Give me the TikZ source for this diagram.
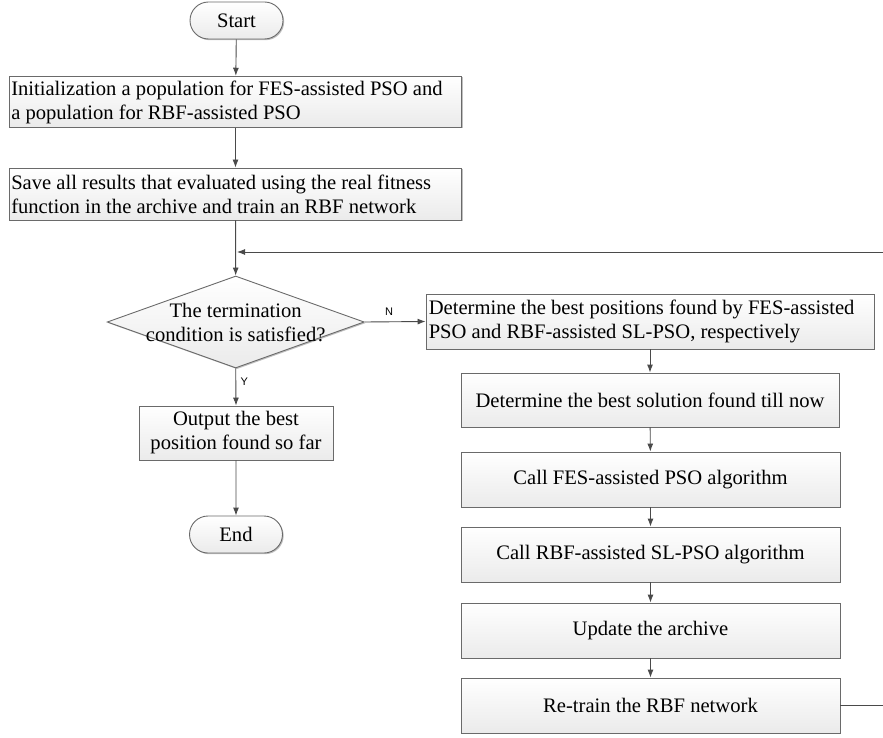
\documentclass[tikz,border=0pt]{standalone}
\usepackage{fontspec}
\setmainfont{Liberation Serif}
\newfontfamily\lblfont{Liberation Sans}
\usetikzlibrary{arrows.meta,shapes.misc,shapes.geometric,shadows}
\definecolor{linec}{HTML}{4A4A4A}
\definecolor{borderc}{HTML}{6A6A6A}
\tikzset{
  fc/.style={draw=borderc, line width=0.9pt, top color=white, bottom color=gray!16,
    drop shadow={shadow xshift=1.2pt, shadow yshift=-1.2pt, opacity=0.25, fill=black}},
  txt/.style={font=\fontsize{20.6}{24}\selectfont},
  boxe/.style={fc, rectangle, inner sep=0pt},
  boxc/.style={fc, txt, rectangle, align=center, inner sep=0pt},
  ltext/.style={txt, align=left, anchor=west, inner sep=0pt},
  term/.style={fc, txt, rounded rectangle, minimum width=93pt, minimum height=37pt, inner sep=0pt},
  flow/.style={draw=linec, line width=0.9pt, -{Latex[length=8pt,width=6pt]}},
  yn/.style={font=\lblfont\fontsize{11}{13}\selectfont, text=black}
}
\begin{document}
\begin{tikzpicture}[x=1pt,y=-1pt]
\useasboundingbox (0,0) rectangle (883,738);
\clip (0,0) rectangle (883,738);
% left column
\node[term] (start) at (236.5,20.5) {Start};
\node[boxe, minimum width=452pt, minimum height=51pt] (init) at (235.5,101.7) {};
\node[ltext] (inittext) at ([xshift=2pt,yshift=-1pt]init.west)
  {Initialization a population for FES-assisted PSO and\\a population for RBF-assisted PSO};
\node[boxe, minimum width=452pt, minimum height=52pt] (save) at (235.5,194) {};
\node[ltext] (savetext) at ([xshift=2pt]save.west)
  {Save all results that evaluated using the real fitness\\function in the archive and train an RBF network};
\node[fc, diamond, minimum width=257pt, minimum height=92pt, inner sep=0pt, shape aspect=2.8] (cond) at (235.7,322) {};
\node[txt, align=center, inner sep=0pt] (condtext) at (cond.center) {The termination\\condition is satisfied?};
\node[boxc, minimum width=194pt, minimum height=54pt] (out) at (236,433) {Output the best\\position found so far};
\node[term] (end) at (236,534.5) {End};
% right column
\node[boxe, minimum width=448pt, minimum height=55pt] (b1) at (650,321.5) {};
\node[ltext] (b1text) at ([xshift=3pt]b1.west)
  {Determine the best positions found by FES-assisted\\PSO and RBF-assisted SL-PSO, respectively};
\node[boxc, minimum width=378pt, minimum height=54pt] (b2) at (650,400) {Determine the best solution found till now};
\node[boxc, minimum width=379pt, minimum height=55pt] (b3) at (650.5,479.5) {Call FES-assisted PSO algorithm};
\node[boxc, minimum width=379pt, minimum height=55pt] (b4) at (650.5,554.5) {Call RBF-assisted SL-PSO algorithm};
\node[boxc, minimum width=379pt, minimum height=55pt] (b5) at (650.5,630.5) {Update the archive};
\node[boxc, minimum width=379pt, minimum height=55pt] (b6) at (650.5,705.5) {Re-train the RBF network};
\coordinate (join) at (236,252);
\coordinate (loopc) at (890,705.5);
% connectors
\draw[flow] (start) -- (init);
\draw[flow] (init) -- (save);
\draw[flow] (save) -- (cond.north);
\draw[flow] (cond.east) -- node[yn, above, pos=0.4, yshift=3pt] (nlab) {N} (b1.west);
\draw[flow] (cond.south) -- node[yn, right, pos=0.35, xshift=1pt] (ylab) {Y} (out.north);
\draw[flow] (out) -- (end);
\draw[flow] (b1.south -| b2.north) -- (b2.north);
\draw[flow] (b2) -- (b3);
\draw[flow] (b3) -- (b4);
\draw[flow] (b4) -- (b5);
\draw[flow] (b5) -- (b6);
\draw[flow] (b6.east) -- (loopc) |- ([xshift=1pt]join);
\end{tikzpicture}
\end{document}
